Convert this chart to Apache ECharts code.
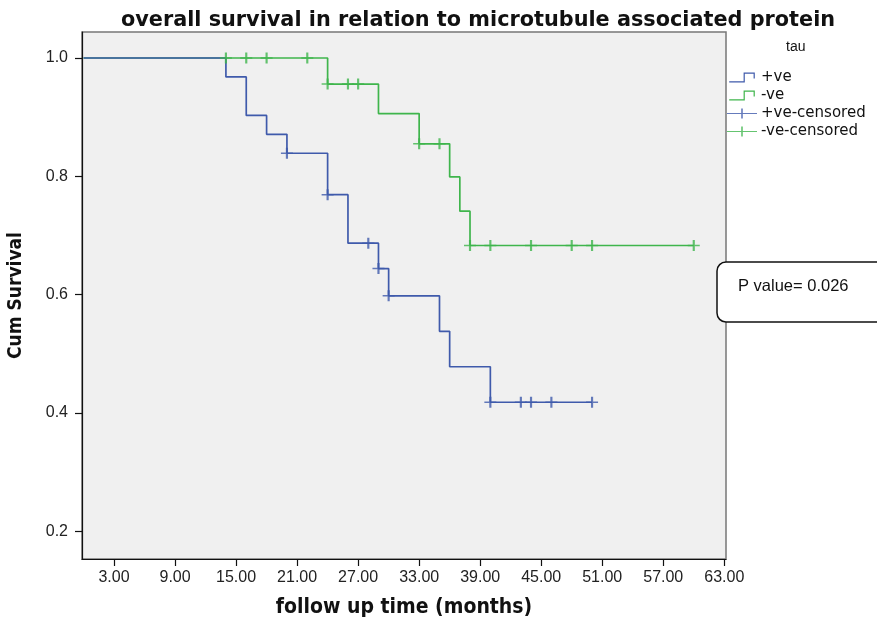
<!DOCTYPE html>
<html>
<head>
<meta charset="utf-8">
<script src="https://cdn.jsdelivr.net/npm/echarts@6/dist/echarts.min.js"></script>
<style>
html,body{margin:0;padding:0;background:#fff;}
#chart{width:877px;height:619px;}
</style>
</head>
<body>
<div id="chart"></div>
<script>
// ---- data ----
const titleText = 'overall survival in relation to microtubule associated protein';
const xTickValues = [3, 9, 15, 21, 27, 33, 39, 45, 51, 57, 63];
const yTickValues = [0.2, 0.4, 0.6, 0.8, 1.0];

// tau +ve : Kaplan-Meier steps (time, survival)
const posTimes = [0, 14, 16, 18, 20, 24, 26, 29, 30, 35, 36, 40, 50];
const posSurv  = [1.0, 0.968, 0.903, 0.871, 0.839, 0.769, 0.687, 0.644, 0.598, 0.538, 0.478, 0.418, 0.418];
const posCensTimes = [20, 24, 28, 29, 30, 40, 43, 44, 46, 50];
const posCensSurv  = [0.839, 0.769, 0.687, 0.644, 0.598, 0.418, 0.418, 0.418, 0.418, 0.418];

// tau -ve
const negTimes = [0, 24, 29, 33, 36, 37, 38, 60];
const negSurv  = [1.0, 0.956, 0.906, 0.855, 0.799, 0.741, 0.683, 0.683];
const negCensTimes = [14, 16, 18, 22, 24, 26, 27, 33, 35, 38, 40, 44, 48, 50, 60];
const negCensSurv  = [1.0, 1.0, 1.0, 1.0, 0.956, 0.956, 0.956, 0.855, 0.855, 0.683, 0.683, 0.683, 0.683, 0.683, 0.683];

const seriesNames = ['+ve', '-ve', '+ve-censored', '-ve-censored'];
const pValueText = 'P value= 0.026';

// ---- build ----
const zip = (a, b) => a.map((v, i) => [v, b[i]]);
const BLUE = '#3f5aab';
const GREEN = '#3fb54c';
const BOLDF = "'DejaVu Sans', sans-serif";
const NARROW = "'DejaVu Sans Condensed', 'DejaVu Sans', sans-serif";
const stepIcon = 'path://M0,8.8H14.4V0H25.6V6H24.4V1.2H15.6V10H0Z';
const plusIcon = 'path://M0,4.4H30V5.6H0ZM14.2,0H15.8V10H14.2Z';
const plusMark = 'path://M0,4.3H10V5.7H0ZM4.1,0H5.9V10H4.1Z';

const chart = echarts.init(document.getElementById('chart'), null, {renderer: 'canvas'});
const option = {
  backgroundColor: '#ffffff',
  animation: false,
  title: {
    text: titleText,
    left: 473, top: 5, textAlign: 'center',
    textStyle: {fontFamily: BOLDF, fontWeight: 'bold', fontSize: 20.8, color: '#111'}
  },
  grid: {
    left: 82, right: 151, top: 32, bottom: 60,
    outerBoundsMode: 'none', containLabel: false,
    show: true, backgroundColor: '#f0f0f0', borderColor: '#777', borderWidth: 1.5
  },
  legend: {
    orient: 'vertical', left: 727, top: 70, padding: 0,
    itemWidth: 32, itemHeight: 10, itemGap: 3,
    textStyle: {fontFamily: "'DejaVu Sans', sans-serif", fontSize: 15, lineHeight: 14, color: '#111', padding: [0, 0, 0, -2]},
    data: [
      {name: seriesNames[0], icon: stepIcon},
      {name: seriesNames[1], icon: stepIcon},
      {name: seriesNames[2], icon: plusIcon},
      {name: seriesNames[3], icon: plusIcon}
    ]
  },
  xAxis: {
    type: 'value', min: -0.15, max: 63.17,
    name: 'follow up time (months)', nameLocation: 'middle', nameGap: 38,
    nameTextStyle: {fontFamily: NARROW, fontWeight: 'bold', fontSize: 21, color: '#111'},
    splitLine: {show: false},
    axisLine: {show: true, onZero: false, lineStyle: {color: '#111', width: 1.2}},
    axisTick: {show: true, length: 7, customValues: xTickValues, lineStyle: {color: '#111', width: 1.2}},
    axisLabel: {customValues: xTickValues, formatter: v => v.toFixed(2), margin: 11,
      fontFamily: 'Liberation Sans', fontSize: 16, color: '#222'}
  },
  yAxis: {
    type: 'value', min: 0.153, max: 1.044,
    name: 'Cum Survival', nameLocation: 'middle', nameGap: 56, nameRotate: 90,
    nameTextStyle: {fontFamily: NARROW, fontWeight: 'bold', fontSize: 19, color: '#111'},
    splitLine: {show: false},
    axisLine: {show: true, onZero: false, lineStyle: {color: '#111', width: 1.2}},
    axisTick: {show: true, length: 7, customValues: yTickValues, lineStyle: {color: '#111', width: 1.2}},
    axisLabel: {customValues: yTickValues, formatter: v => v.toFixed(1), margin: 14,
      fontFamily: 'Liberation Sans', fontSize: 16, color: '#222'}
  },
  series: [
    {name: seriesNames[0], type: 'line', step: 'end', data: zip(posTimes, posSurv),
      showSymbol: false, symbol: 'none', color: BLUE, lineStyle: {color: BLUE, width: 1.7}, z: 3},
    {name: seriesNames[1], type: 'line', step: 'end', data: zip(negTimes, negSurv),
      showSymbol: false, symbol: 'none', color: GREEN, lineStyle: {color: GREEN, width: 1.7}, z: 2},
    {name: seriesNames[2], type: 'scatter', data: zip(posCensTimes, posCensSurv),
      symbol: plusMark, symbolSize: [12, 11], color: BLUE, itemStyle: {color: BLUE}, z: 4},
    {name: seriesNames[3], type: 'scatter', data: zip(negCensTimes, negCensSurv),
      symbol: plusMark, symbolSize: [12, 11], color: GREEN, itemStyle: {color: GREEN}, z: 4}
  ],
  graphic: [
    {type: 'text', left: 786, top: 40,
      style: {text: 'tau', font: '14px "Liberation Sans"', fill: '#111'}},
    {type: 'rect', shape: {x: 717, y: 262, width: 175, height: 60, r: 9},
      style: {fill: '#ffffff', stroke: '#111', lineWidth: 1.5}, z: 10},
    {type: 'text', x: 738, y: 278,
      style: {text: pValueText, font: '16.5px "Liberation Sans"', fill: '#111'}, z: 11}
  ]
};
chart.setOption(option);
</script>
</body>
</html>
